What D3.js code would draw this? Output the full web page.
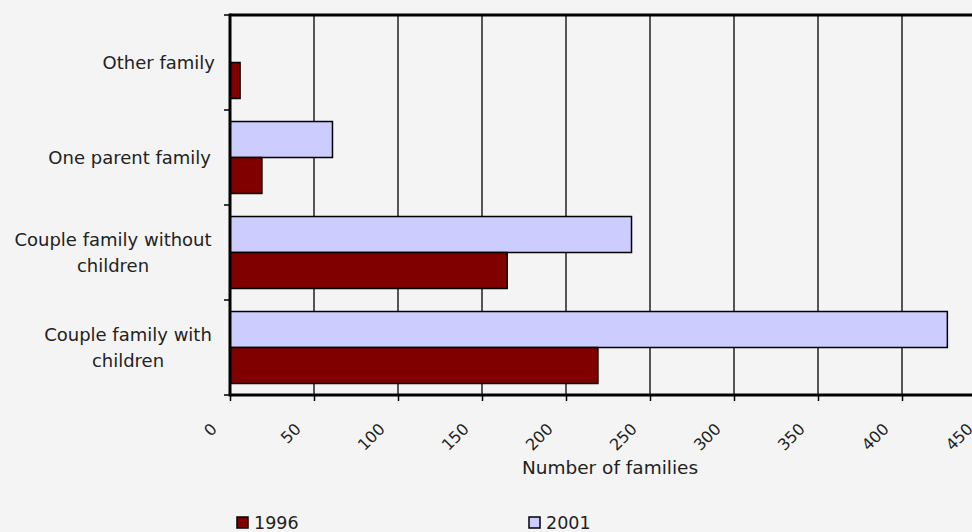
<!DOCTYPE html>
<html>
<head>
<meta charset="utf-8">
<script src="https://cdn.jsdelivr.net/npm/d3@7"></script>
<style>
  body { margin: 0; background: #f4f4f4; }
  svg { display: block; }
</style>
</head>
<body>
<svg id="canvas"></svg>
<script>
// chart data
let categories = ['Other family', 'One parent family', 'Couple family without children', 'Couple family with children']
let values1996 = [6, 19, 165, 219]
let values2001 = [0, 61, 239, 427]
let seriesNames = ['1996', '2001']
let seriesColors = ['#800000', '#ccccff']
let xTicks = [0, 50, 100, 150, 200, 250, 300, 350, 400, 450]

let width = 972
let height = 532
let plotLeft = 230
let plotTop = 15
let plotBottom = 395

let canvas = d3.select('#canvas')
    .attr('width', width)
    .attr('height', height)

let xScale = d3.scaleLinear()
    .domain([0, 450])
    .range([plotLeft, plotLeft + 756])

let yScale = d3.scaleBand()
    .domain(categories)
    .range([plotTop, plotBottom])
    .paddingInner(0)

let inner = d3.scaleBand()
    .domain(['2001', '1996'])
    .range([0, yScale.bandwidth()])
    .paddingInner(0)
    .paddingOuter(0.32)

let font = 'DejaVu Sans, sans-serif'

// gridlines
canvas.append('g')
    .selectAll('line')
    .data(xTicks.slice(1))
    .enter()
    .append('line')
    .attr('x1', d => xScale(d))
    .attr('x2', d => xScale(d))
    .attr('y1', plotTop)
    .attr('y2', plotBottom)
    .attr('stroke', '#000')
    .attr('stroke-width', 1.3)

// bars
let rows = categories.map((c, i) => ({ cat: c, v1996: values1996[i], v2001: values2001[i] }))

let drawSeries = (key, name, color) => {
    canvas.append('g')
        .selectAll('rect')
        .data(rows.filter(d => d[key] > 0))
        .enter()
        .append('rect')
        .attr('x', xScale(0))
        .attr('y', d => yScale(d.cat) + inner(name))
        .attr('width', d => xScale(d[key]) - xScale(0))
        .attr('height', inner.bandwidth())
        .attr('fill', color)
        .attr('stroke', '#000')
        .attr('stroke-width', 1.5)
}
drawSeries('v2001', '2001', seriesColors[1])
drawSeries('v1996', '1996', seriesColors[0])

// top frame line
canvas.append('line')
    .attr('x1', plotLeft).attr('x2', width)
    .attr('y1', plotTop).attr('y2', plotTop)
    .attr('stroke', '#000').attr('stroke-width', 3)

// x axis
let xAxis = d3.axisBottom(xScale)
    .tickValues(xTicks)
    .tickSize(6)
    .tickFormat('')
let xg = canvas.append('g')
    .attr('transform', `translate(0, ${plotBottom})`)
    .call(xAxis)
xg.select('.domain').attr('stroke-width', 3).attr('d', `M${plotLeft},0H${width}`)
xg.selectAll('.tick line').attr('stroke-width', 1.5)

xg.selectAll('.lbl')
    .data(xTicks)
    .enter()
    .append('text')
    .attr('class', 'lbl')
    .attr('transform', d => `translate(${xScale(d) - 12}, 35) rotate(-45)`)
    .attr('text-anchor', 'end')
    .attr('font-family', font)
    .attr('font-size', 16)
    .attr('fill', '#222')
    .text(d => d)

// y axis
let yAxis = d3.axisLeft(yScale)
    .tickSize(0)
    .tickFormat('')
let yg = canvas.append('g')
    .attr('transform', `translate(${plotLeft}, 0)`)
    .call(yAxis)
yg.select('.domain').attr('stroke-width', 3).attr('d', `M0,${plotTop - 1.5}V${plotBottom + 1.5}`)

let yTickPos = categories.map(c => yScale(c)).concat([plotBottom])
yg.selectAll('.yt')
    .data(yTickPos)
    .enter()
    .append('line')
    .attr('x1', -6).attr('x2', 0)
    .attr('y1', d => d).attr('y2', d => d)
    .attr('stroke', '#000').attr('stroke-width', 1.5)

// category labels
let labelLines = {
    'Other family': ['Other family'],
    'One parent family': ['One parent family'],
    'Couple family without children': ['Couple family without', 'children'],
    'Couple family with children': ['Couple family with', 'children']
}
let labelX = { 'Other family': 215, 'One parent family': 211, 'Couple family without children': 113, 'Couple family with children': 128 }
categories.forEach(c => {
    let lines = labelLines[c]
    let cy = yScale(c) + yScale.bandwidth() / 2
    let t = canvas.append('text')
        .attr('text-anchor', lines.length > 1 ? 'middle' : 'end')
        .attr('font-family', font)
        .attr('font-size', 18)
        .attr('fill', '#222')
    lines.forEach((l, i) => {
        t.append('tspan')
            .attr('x', labelX[c])
            .attr('y', cy + 6 + (i - (lines.length - 1) / 2) * 26)
            .text(l)
    })
})

// axis title
canvas.append('text')
    .attr('x', 610)
    .attr('y', 474)
    .attr('text-anchor', 'middle')
    .attr('font-family', font)
    .attr('font-size', 18.5)
    .attr('fill', '#222')
    .text('Number of families')

// legend
let legendX = [237, 529]
seriesNames.forEach((s, i) => {
    let g = canvas.append('g').attr('transform', `translate(${legendX[i]}, 517)`)
    g.append('rect')
        .attr('width', 11).attr('height', 11)
        .attr('fill', seriesColors[i])
        .attr('stroke', '#000').attr('stroke-width', 1.5)
    g.append('text')
        .attr('x', 17).attr('y', 12)
        .attr('font-family', font)
        .attr('font-size', 17.5)
        .attr('fill', '#222')
        .text(s)
})
</script>
</body>
</html>
